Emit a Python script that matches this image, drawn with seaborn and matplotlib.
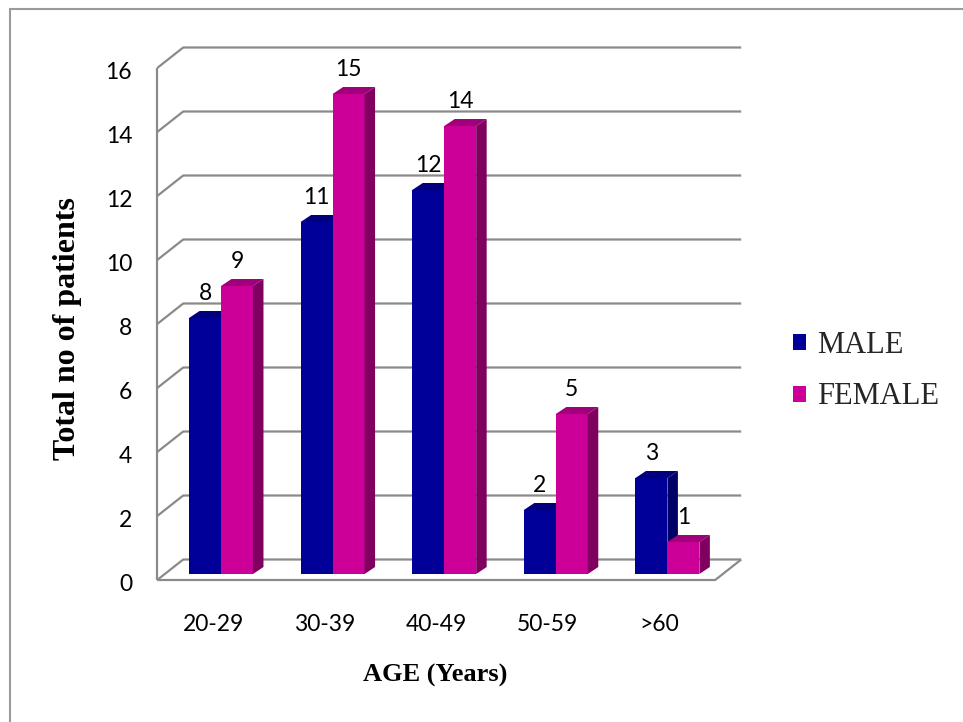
import numpy as np
import pandas as pd
import matplotlib
matplotlib.use("Agg")
import matplotlib.pyplot as plt
from matplotlib.patches import Polygon, Patch
from matplotlib.lines import Line2D
from matplotlib.transforms import ScaledTranslation
import seaborn as sns

# ---- data -------------------------------------------------------------
age_groups = ["20-29", "30-39", "40-49", "50-59", ">60"]
male = [8, 11, 12, 2, 3]
female = [9, 15, 14, 5, 1]
series = ["MALE", "FEMALE"]
y_ticks = [0, 2, 4, 6, 8, 10, 12, 14, 16]

face = {"MALE": "#000099", "FEMALE": "#CC0099"}
top_col = {"MALE": "#00007C", "FEMALE": "#A0007A"}
side_col = {"MALE": "#000066", "FEMALE": "#800060"}

df = pd.DataFrame({
    "age": age_groups * 2,
    "count": male + female,
    "sex": ["MALE"] * len(male) + ["FEMALE"] * len(female),
})

sns.set_theme(style="white")
plt.rcParams["font.family"] = ["Lato", "DejaVu Sans"]

W, H = 963, 722
fig = plt.figure(figsize=(W / 100, H / 100), dpi=100)
fig.patch.set_facecolor("white")

# scale of the bar plane: px per category and px per unit
SX, SY = 111.6, 32.0
# front wall sits slightly in front of / below the bar plane
FX, FY = -8 / SX, -6 / SY
# depth of the box (front wall -> back wall)
DX, DY = 26 / SX, 20.5 / SY
# depth of each bar
BX, BY = 10.5 / SX, 7 / SY

n = len(age_groups)
x_lf = -0.5 + FX          # front-left corner
x_rf = n - 0.5 + FX       # front-right corner
ymax = max(y_ticks)

x_lo, x_hi = x_lf, x_rf + DX
y_lo, y_hi = FY, ymax + FY + DY + 0.05

L = 221 + x_lo * SX
R = 221 + x_hi * SX
B = 574 - y_lo * SY
T = 574 - y_hi * SY
ax = fig.add_axes([L / W, (H - B) / H, (R - L) / W, (B - T) / H])
ax.set_facecolor("none")

sns.barplot(data=df, x="age", y="count", hue="sex", order=age_groups,
            hue_order=series, palette=face, width=0.573, saturation=1,
            linewidth=0, legend=False, ax=ax)

# walls and floor of the pseudo-3D box
grid_kw = dict(color="#8a8a8a", lw=1.6, solid_capstyle="butt", zorder=1, clip_on=False)
for v in y_ticks:
    yf = v + FY
    ax.plot([x_lf, x_lf + DX, x_rf + DX], [yf, yf + DY, yf + DY], **grid_kw)
ax.plot([x_lf, x_rf, x_rf + DX], [FY, FY, FY + DY], **grid_kw)
ax.plot([x_lf, x_lf], [FY, ymax + FY], **grid_kw)

# give each bar a top and a side face
for p in list(ax.patches):
    x, w, h = p.get_x(), p.get_width(), p.get_height()
    key = "MALE" if np.allclose(p.get_facecolor()[:3], matplotlib.colors.to_rgb(face["MALE"])) else "FEMALE"
    z = 3 if key == "MALE" else 4
    p.set_zorder(z)
    ax.add_patch(Polygon([(x, h), (x + w, h), (x + w + BX, h + BY), (x + BX, h + BY)],
                         closed=True, facecolor=top_col[key], edgecolor="none", zorder=z))
    ax.add_patch(Polygon([(x + w, 0), (x + w, h), (x + w + BX, h + BY), (x + w + BX, BY)],
                         closed=True, facecolor=side_col[key], edgecolor="none", zorder=z))
    ax.text(x + w / 2, h + 18 / SY, f"{h:g}", ha="center", va="baseline",
            fontsize=16.5, color="black", zorder=6)

ax.set_xlim(x_lo, x_hi)
ax.set_ylim(y_lo, y_hi)
for s in ax.spines.values():
    s.set_visible(False)
ax.grid(False)

ax.set_yticks([v + FY for v in y_ticks], labels=[str(v) for v in y_ticks])
ax.set_xticks([k + FX for k in range(n)], labels=age_groups)
ax.tick_params(axis="y", length=0, pad=18, labelsize=16.5, labelcolor="black")
ax.tick_params(axis="x", length=0, pad=24.5, labelsize=16.5, labelcolor="black")
# value labels sit a touch below their gridline
for lbl in ax.get_yticklabels():
    lbl.set_transform(lbl.get_transform() + ScaledTranslation(0, -2.5 / 100, fig.dpi_scale_trans))

ax.set_xlabel("AGE (Years)", fontfamily="Liberation Serif", fontweight="bold",
              fontsize=19, color="black", va="center")
ax.xaxis.set_label_coords(435 / W, (H - 675) / H, transform=fig.transFigure)
ax.set_ylabel("Total no of patients", fontfamily="Liberation Serif", fontweight="bold",
              fontsize=23, color="black", va="center")
ax.yaxis.set_label_coords(68 / W, (H - 329) / H, transform=fig.transFigure)

handles = [Patch(facecolor=face[s], edgecolor="none", label=s) for s in series]
fig.legend(handles=handles, loc="center left", bbox_to_anchor=(793 / W, (H - 371) / H),
           frameon=False, prop={"family": "Liberation Serif", "size": 22},
           handlelength=0.43, handleheight=0.43, handletextpad=0.35,
           labelspacing=0.75, borderpad=0, borderaxespad=0)

# chart frame
fig.add_artist(Line2D([9.5 / W, 9.5 / W], [0, (H - 9) / H], color="#9a9a9a", lw=1.5))
fig.add_artist(Line2D([9.5 / W, 1], [(H - 9) / H, (H - 9) / H], color="#9a9a9a", lw=1.5))

fig.savefig("out.png", dpi=100, facecolor="white")
